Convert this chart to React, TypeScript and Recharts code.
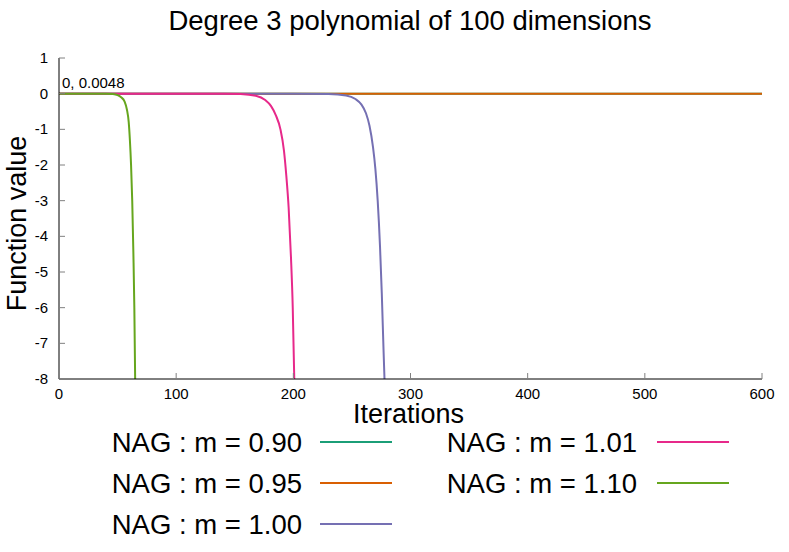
import { LineChart, Line, XAxis, YAxis, ReferenceDot } from 'recharts';

const xTicks = [0, 100, 200, 300, 400, 500, 600];
const yTicks = [1, 0, -1, -2, -3, -4, -5, -6, -7, -8];

const seriesNames = ['NAG : m = 0.90', 'NAG : m = 0.95', 'NAG : m = 1.00', 'NAG : m = 1.01', 'NAG : m = 1.10'];
const seriesColors = ['#1b9e77', '#d95f02', '#7570b3', '#e7298a', '#66a61e'];

// iterations / function values
const iters090 = [0, 100, 200, 300, 400, 500, 600];
const vals090 = [0, 0, 0, 0, 0, 0, 0];
const iters095 = [0, 100, 200, 300, 400, 500, 600];
const vals095 = [0, 0, 0, 0, 0, 0, 0];
const iters100 = [0, 100, 200, 230, 245, 253, 258, 262, 265, 268, 270, 272, 274, 275.5, 277, 277.8];
const vals100 = [0, 0, 0, -0.01, -0.05, -0.15, -0.3, -0.55, -0.9, -1.5, -2.1, -3, -4.3, -5.6, -7.2, -8];
const iters101 = [0, 100, 140, 155, 168, 176, 181, 185, 189, 192, 194, 196, 198, 199.5, 200.8];
const vals101 = [0, 0, 0, -0.01, -0.06, -0.18, -0.35, -0.6, -1.0, -1.6, -2.3, -3.2, -4.6, -6, -8];
const iters110 = [0, 20, 40, 46, 50, 53, 56, 58, 59.5, 60.5, 61.5, 62.5, 63.5, 64.3, 65];
const vals110 = [0, 0, 0, -0.01, -0.04, -0.1, -0.22, -0.45, -0.8, -1.3, -2, -3, -4.5, -6, -8];

const toPoints = (xs: number[], ys: number[]) => xs.map((x, i) => ({ x, y: ys[i] }));

const seriesData = [
  toPoints(iters090, vals090),
  toPoints(iters095, vals095),
  toPoints(iters100, vals100),
  toPoints(iters101, vals101),
  toPoints(iters110, vals110),
];

const FONT = '"Liberation Sans", Arial, sans-serif';
const TICK_COLOR = '#808080';

const BottomTick = ({ x, y, payload }: any) => (
  <g>
    <line x1={x} y1={y} x2={x} y2={y - 6} stroke={TICK_COLOR} />
    <text x={x} y={y + 20} textAnchor="middle" fontSize={15} fontFamily={FONT} fill="#000">
      {payload.value}
    </text>
  </g>
);

const TopTick = ({ x, y }: any) => <line x1={x} y1={y} x2={x} y2={y + 6} stroke={TICK_COLOR} />;

const LeftTick = ({ x, y, payload }: any) => (
  <g>
    <line x1={x} y1={y} x2={x + 6} y2={y} stroke={TICK_COLOR} />
    <text x={x - 11} y={y + 5} textAnchor="end" fontSize={15} fontFamily={FONT} fill="#000">
      {payload.value}
    </text>
  </g>
);

const RightTick = ({ x, y }: any) => <line x1={x} y1={y} x2={x - 6} y2={y} stroke={TICK_COLOR} />;

export default function App() {
  const legendCols = [
    { textX: 302, lineX: 320 },
    { textX: 637, lineX: 657 },
  ];
  const rowY = [442, 483, 524];

  return (
    <div style={{ position: 'absolute', left: 0, top: 0, width: 789, height: 552, background: '#fff' }}>
      <LineChart
        width={789}
        height={552}
        margin={{ top: 58, right: 27, left: 0, bottom: 123 }}
      >
        <XAxis
          type="number"
          dataKey="x"
          domain={[0, 600]}
          ticks={xTicks}
          interval={0}
          allowDataOverflow
          height={50}
          tickSize={0}
          tickMargin={0}
          tickLine={false}
          tick={<BottomTick />}
          axisLine={{ stroke: '#000' }}
          label={(props: any) => {
            const vb = props.viewBox;
            return (
              <text x={vb.x + vb.width / 2 - 2} y={423} textAnchor="middle" fontSize={27} fontFamily={FONT} fill="#000">
                Iterations
              </text>
            );
          }}
        />
        <XAxis
          xAxisId="top"
          orientation="top"
          type="number"
          dataKey="x"
          domain={[0, 600]}
          ticks={xTicks}
          interval={0}
          allowDataOverflow
          height={0}
          tickSize={0}
          tickMargin={0}
          tickLine={false}
          tick={<TopTick />}
          axisLine={{ stroke: '#000' }}
        />
        <YAxis
          type="number"
          domain={[-8, 1]}
          ticks={yTicks}
          interval={0}
          allowDataOverflow
          width={59}
          tickSize={0}
          tickMargin={0}
          tickLine={false}
          tick={<LeftTick />}
          axisLine={{ stroke: '#000' }}
          label={(props: any) => {
            const vb = props.viewBox;
            const cy = vb.y + vb.height / 2 + 5;
            return (
              <text
                x={26}
                y={cy}
                transform={`rotate(-90, 26, ${cy})`}
                textAnchor="middle"
                fontSize={27}
                fontFamily={FONT}
                fill="#000"
              >
                Function value
              </text>
            );
          }}
        />
        <YAxis
          yAxisId="right"
          orientation="right"
          type="number"
          domain={[-8, 1]}
          ticks={yTicks}
          interval={0}
          allowDataOverflow
          width={0}
          tickSize={0}
          tickMargin={0}
          tickLine={false}
          tick={<RightTick />}
          axisLine={{ stroke: '#000' }}
        />
        {seriesData.map((pts, i) => (
          <Line
            key={seriesNames[i]}
            data={pts}
            dataKey="y"
            type="monotone"
            stroke={seriesColors[i]}
            strokeWidth={2}
            dot={false}
            activeDot={false}
            isAnimationActive={false}
          />
        ))}
        <ReferenceDot
          x={0}
          y={0}
          r={0}
          fill="none"
          stroke="none"
          label={(props: any) => {
            const vb = props.viewBox;
            return (
              <text x={vb.x + 3} y={vb.y - 6} fontSize={15} fontFamily={FONT} fill="#000">
                0, 0.0048
              </text>
            );
          }}
        />
      </LineChart>
      <svg
        width={789}
        height={552}
        style={{ position: 'absolute', left: 0, top: 0, pointerEvents: 'none' }}
      >
        <text x={410} y={30} textAnchor="middle" fontSize={27.5} fontFamily={FONT} fill="#000">
          Degree 3 polynomial of 100 dimensions
        </text>
        {seriesNames.map((name, i) => {
          const col = legendCols[i < 3 ? 0 : 1];
          const y = rowY[i < 3 ? i : i - 3];
          return (
            <g key={name}>
              <text x={col.textX} y={y + 10} textAnchor="end" fontSize={27.5} fontFamily={FONT} fill="#000">
                {name}
              </text>
              <line x1={col.lineX} y1={y} x2={col.lineX + 72} y2={y} stroke={seriesColors[i]} strokeWidth={2} />
            </g>
          );
        })}
      </svg>
    </div>
  );
}
